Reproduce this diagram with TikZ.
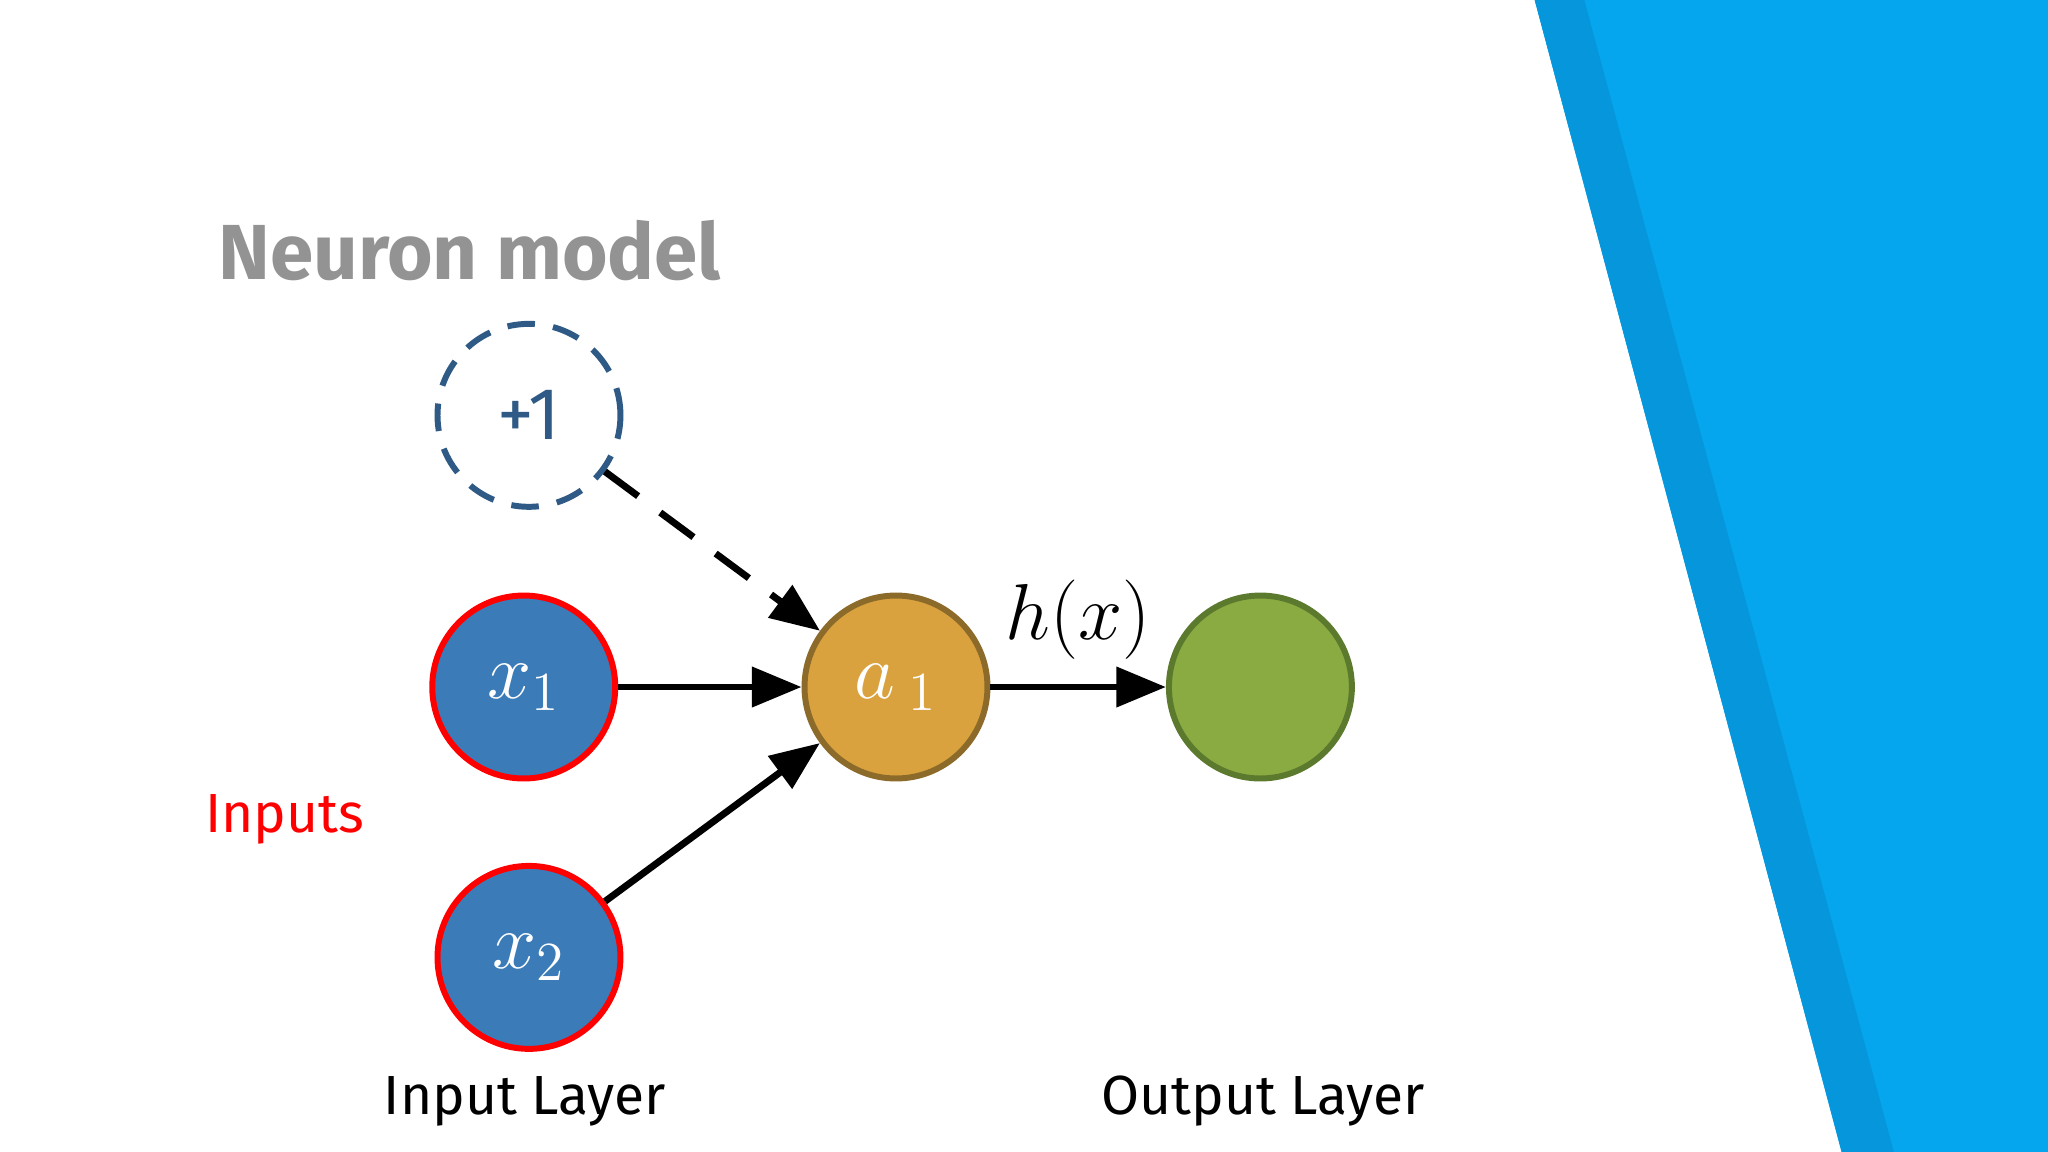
\documentclass[tikz,border=0pt]{standalone}
\usepackage{fontspec}
\setmainfont{Fira Sans}
\usetikzlibrary{arrows.meta}
\definecolor{sky}{HTML}{06A6EE}
\definecolor{skyd}{HTML}{0596DC}
\definecolor{bias}{HTML}{2E5A85}
\definecolor{inblue}{HTML}{3A7BB8}
\definecolor{gold}{HTML}{D9A23E}
\definecolor{goldb}{HTML}{8C6B2A}
\definecolor{grn}{HTML}{8AAA42}
\definecolor{grnb}{HTML}{5C7A2E}
\begin{document}
\begin{tikzpicture}[x=0.01cm,y=-0.01cm,
  neuron/.style={circle,minimum size=1.4cm,inner sep=0pt,line width=1.3pt,text=white,font=\fontsize{17}{17}\selectfont},
  arr/.style={line width=1.5pt,-{Triangle[length=0.38cm,width=0.3cm]}},
  lbl/.style={font=\fontsize{12}{14}\selectfont}]
\useasboundingbox (0,0) rectangle (1568,882);
\fill[white] (0,0) rectangle (1568,882);
\fill[sky] (1175,0) -- (1568,0) -- (1568,882) -- (1410,882) -- cycle;
\fill[skyd] (1175,0) -- (1213,0) -- (1450,882) -- (1410,882) -- cycle;
\node[anchor=west,text=gray!85,font=\fontsize{17}{20}\selectfont\bfseries] (title) at (155,192) {Neuron model};
\node[neuron,draw=bias,dashed,dash pattern=on 6pt off 4pt,text=bias,font=\fontsize{16}{16}\selectfont] (b) at (405,318) {+1};
\node[neuron,fill=inblue,draw=red] (x1) at (401,526) {$x_1$};
\node[neuron,fill=inblue,draw=red] (x2) at (405,733) {$x_2$};
\node[neuron,fill=gold,draw=goldb] (a1) at (686,526) {$a\,_1$};
\node[neuron,fill=grn,draw=grnb] (o) at (965,526) {};
\draw[arr,dashed,dash pattern=on 9pt off 6pt] (b) -- (a1);
\draw[arr] (x1) -- (a1);
\draw[arr] (x2) -- (a1);
\draw[arr] (a1) -- node[above=2pt,font=\fontsize{16}{16}\selectfont]{$h(x)$} (o);
\node[lbl,text=red] (inp) at (218,627) {Inputs};
\node[lbl] (il) at (402,843) {Input Layer};
\node[lbl] (ol) at (967,843) {Output Layer};
\end{tikzpicture}
\end{document}
